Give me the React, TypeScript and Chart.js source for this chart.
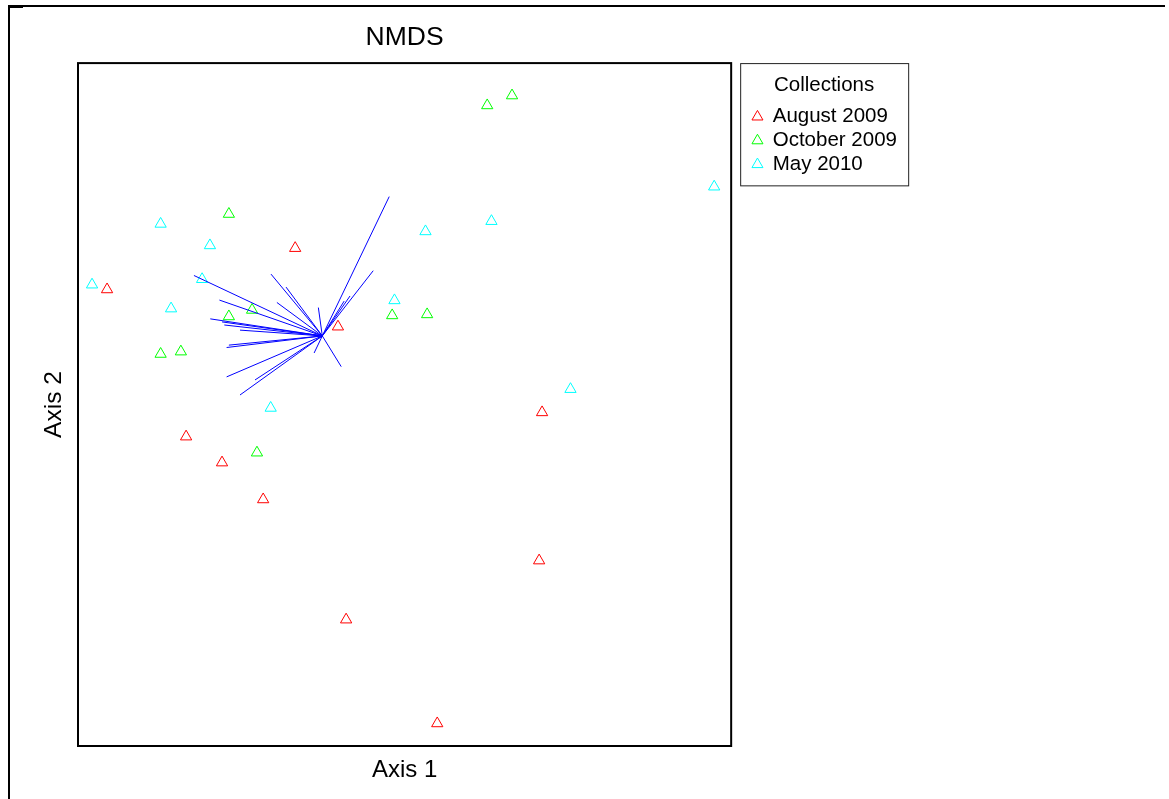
import { useEffect, useRef } from 'react';
import { Chart, registerables } from 'chart.js';

Chart.register(...registerables);

const FONT = "'Liberation Sans', Arial, sans-serif";

const seriesNames = ['August 2009', 'October 2009', 'May 2010'];
const seriesColors = ['#FF0000', '#00FF00', '#00FFFF'];

const augustX = [-0.911, -0.335, -0.204, -0.669, -0.559, -0.433, 0.421, 0.412, -0.179, 0.1];
const augustY = [0.337, 0.458, 0.228, -0.094, -0.17, -0.278, -0.023, -0.457, -0.63, -0.934];

const octoberX = [0.253, 0.329, -0.538, -0.467, -0.538, -0.747, -0.685, -0.038, 0.069, -0.452];
const octoberY = [0.876, 0.905, 0.558, 0.277, 0.258, 0.148, 0.155, 0.261, 0.264, -0.141];

const mayX = [0.948, -0.747, -0.596, -0.62, -0.957, -0.715, 0.064, 0.266, -0.031, -0.41, 0.508];
const mayY = [0.638, 0.529, 0.466, 0.367, 0.351, 0.281, 0.507, 0.537, 0.305, -0.01, 0.045];

const vectorOriginX = -0.252;
const vectorOriginY = 0.201;
const vectorEndX = [-0.047, -0.096, -0.167, -0.185, -0.409, -0.363, -0.391, -0.264, -0.645, -0.567, -0.595, -0.552, -0.559, -0.504, -0.545, -0.538, -0.545, -0.504, -0.458, -0.277, -0.194];
const vectorEndY = [0.609, 0.392, 0.318, 0.303, 0.382, 0.344, 0.299, 0.284, 0.378, 0.306, 0.251, 0.233, 0.242, 0.218, 0.167, 0.174, 0.081, 0.028, 0.072, 0.151, 0.111];

const axisMin = -1;
const axisMax = 1;

const toPoints = (xs: number[], ys: number[]) => xs.map((x, i) => ({ x, y: ys[i] }));

const vectorPoints = () => {
  const pts: { x: number | null; y: number | null }[] = [];
  vectorEndX.forEach((x, i) => {
    pts.push({ x: vectorOriginX, y: vectorOriginY });
    pts.push({ x, y: vectorEndY[i] });
    pts.push({ x: null, y: null });
  });
  return pts;
};

const framePlugin = {
  id: 'frames',
  afterDraw(chart: any) {
    const { ctx, chartArea: a } = chart;
    ctx.save();
    ctx.strokeStyle = '#000';
    ctx.lineWidth = 2;
    ctx.strokeRect(a.left, a.top, a.right - a.left, a.bottom - a.top);
    ctx.beginPath();
    ctx.moveTo(8, 6);
    ctx.lineTo(1165, 6);
    ctx.moveTo(9, 5);
    ctx.lineTo(9, 799);
    ctx.stroke();
    ctx.fillStyle = '#000';
    ctx.fillRect(8, 5, 15, 3);
    const lg = chart.legend;
    if (lg && lg.legendHitBoxes && lg.legendHitBoxes.length) {
      const hb = lg.legendHitBoxes;
      const last = hb[hb.length - 1];
      const bottom = last.top + last.height + 10.7;
      ctx.lineWidth = 1;
      ctx.strokeStyle = '#222';
      ctx.strokeRect(lg.left - 8.5, lg.top + 0.5, 168, bottom - lg.top);
    }
    ctx.restore();
  },
};

export default function App() {
  const canvasRef = useRef<HTMLCanvasElement | null>(null);

  useEffect(() => {
    document.body.style.margin = '0';
    const canvas = canvasRef.current;
    if (!canvas) return;
    const series = [
      toPoints(augustX, augustY),
      toPoints(octoberX, octoberY),
      toPoints(mayX, mayY),
    ];
    const datasets: any[] = series.map((data, i) => ({
      type: 'scatter',
      label: seriesNames[i],
      data,
      pointStyle: 'triangle',
      pointRadius: 6.5,
      pointBorderWidth: 1,
      borderWidth: 1,
      borderColor: seriesColors[i],
      backgroundColor: 'rgba(0,0,0,0)',
      order: 1,
    }));
    datasets.push({
      type: 'scatter',
      label: 'vectors',
      data: vectorPoints(),
      showLine: true,
      spanGaps: false,
      borderColor: '#0000FF',
      borderWidth: 1,
      pointRadius: 0,
      order: 0,
    });

    const chart = new Chart(canvas, {
      type: 'scatter',
      data: { datasets },
      options: {
        responsive: false,
        animation: false,
        devicePixelRatio: 1,
        events: [],
        layout: { padding: { left: 0, top: 0, right: 270, bottom: 0 } },
        scales: {
          x: {
            type: 'linear',
            min: axisMin,
            max: axisMax,
            position: 'bottom',
            grid: { display: false },
            ticks: { display: false },
            border: { display: false },
            title: {
              display: true,
              text: 'Axis 1',
              color: '#000',
              font: { family: FONT, size: 24 },
              padding: { top: 0, bottom: 14 },
            },
            afterFit: (s: any) => {
              s.height = 53;
            },
          },
          y: {
            type: 'linear',
            min: axisMin,
            max: axisMax,
            position: 'left',
            grid: { display: false },
            ticks: { display: false },
            border: { display: false },
            title: {
              display: true,
              text: 'Axis 2',
              color: '#000',
              font: { family: FONT, size: 24.5 },
              padding: { top: 39.5, bottom: 0 },
            },
            afterFit: (s: any) => {
              s.width = 78;
            },
          },
          yPad: {
            type: 'linear',
            position: 'right',
            display: true,
            grid: { display: false },
            ticks: { display: false },
            border: { display: false },
            afterFit: (s: any) => {
              s.width = 18;
            },
          },
        },
        plugins: {
          title: {
            display: true,
            text: 'NMDS',
            fullSize: false,
            color: '#000',
            font: { family: FONT, size: 26.5, weight: 'normal' },
            padding: { top: 22, bottom: 9.3 },
          },
          legend: {
            display: true,
            position: 'right',
            align: 'start',
            fullSize: false,
            title: {
              display: true,
              text: 'Collections',
              position: 'center',
              color: '#000',
              font: { family: FONT, size: 20.5 },
              padding: { top: 11.75, bottom: 3.8 },
            },
            labels: {
              usePointStyle: true,
              boxWidth: 10,
              boxHeight: 9,
              padding: 3.3,
              color: '#000',
              font: { family: FONT, size: 20.5 },
              filter: (item: any) => item.datasetIndex < 3,
            },
          },
          tooltip: { enabled: false },
        },
      } as any,
      plugins: [framePlugin],
    });
    return () => chart.destroy();
  }, []);

  return (
    <div style={{ width: 1169, height: 799 }}>
      <canvas ref={canvasRef} width={1169} height={799} style={{ display: 'block' }} />
    </div>
  );
}
